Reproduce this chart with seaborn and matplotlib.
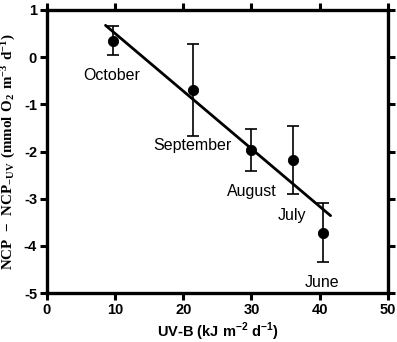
import numpy as np
import pandas as pd
import matplotlib
matplotlib.use("Agg")
import matplotlib.pyplot as plt
import seaborn as sns

# monthly means
months = ["October", "September", "August", "July", "June"]
uvb = [9.7, 21.5, 30.0, 36.1, 40.5]
ncp_diff = [0.35, -0.70, -1.97, -2.18, -3.72]
err = [0.30, 0.97, 0.45, 0.73, 0.63]

# where the month names sit
label_x = [9.5, 21.4, 30.1, 35.9, 40.4]
label_y = [-0.38, -1.87, -2.85, -3.36, -4.78]

df = pd.DataFrame({"uvb": uvb, "ncp": ncp_diff, "err": err})

sns.set_style("ticks", {"axes.edgecolor": "black", "xtick.color": "black",
                        "ytick.color": "black", "text.color": "black",
                        "axes.labelcolor": "black"})
plt.rcParams["font.family"] = ["Liberation Sans", "DejaVu Sans"]
plt.rcParams["axes.unicode_minus"] = False
plt.rcParams["mathtext.fontset"] = "custom"
plt.rcParams["mathtext.rm"] = "Liberation Serif:bold"
plt.rcParams["mathtext.sf"] = "Liberation Sans:bold"

fig = plt.figure(figsize=(3.97, 3.42), dpi=100)
ax = fig.add_axes([0.118, 0.143, 0.859, 0.828])

ax.errorbar(df["uvb"], df["ncp"], yerr=df["err"], fmt="none", ecolor="black",
            elinewidth=1.2, capsize=4, capthick=1.2, zorder=2)
sns.scatterplot(data=df, x="uvb", y="ncp", color="black", s=55, edgecolor="black",
                zorder=3, ax=ax)

# least squares line, drawn a little past the data
slope, icpt = np.polyfit(df["uvb"], df["ncp"], 1)
xfit = np.array([df["uvb"].min() - 1.1, df["uvb"].max() + 1.1])
sns.lineplot(x=xfit, y=slope * xfit + icpt, color="black", linewidth=2, ax=ax, zorder=2)

for m, lx, ly in zip(months, label_x, label_y):
    ax.text(lx, ly, m, ha="center", va="center", fontsize=11.5, color="black")

ax.set_xlim(0, 50)
ax.set_ylim(-5, 1)
ax.set_xticks(range(0, 51, 10))
ax.set_yticks(range(-5, 2))
for s in ax.spines.values():
    s.set_linewidth(2.4)
    s.set_color("black")
ax.tick_params(direction="out", length=5, width=2.2, top=True, right=True,
               labelsize=10.5, pad=2, colors="black")
for t in ax.get_xticklabels() + ax.get_yticklabels():
    t.set_fontweight("bold")

ax.set_xlabel(r"UV-B (kJ m$^{\mathsf{-2}}$ d$^{\mathsf{-1}}$)", fontsize=10.5,
              fontweight="bold", labelpad=3)
ax.set_ylabel(r"$\mathrm{NCP\ -\ NCP_{-UV}\ (mmol\ O_2\ m^{-3}\ d^{-1})}$",
              fontsize=10.8, labelpad=4)

fig.savefig("out.png", dpi=100)
